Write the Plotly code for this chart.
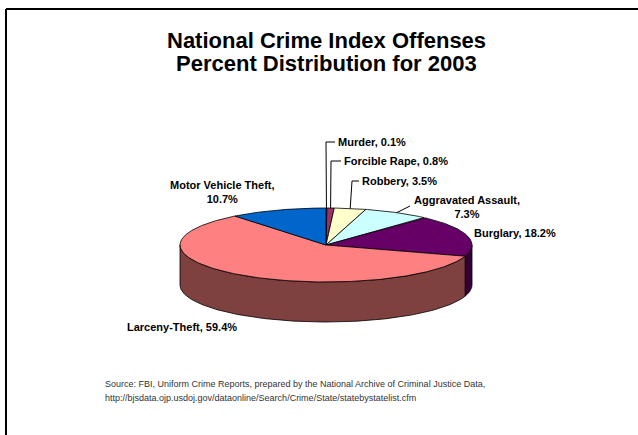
import numpy as np
import plotly.graph_objects as go

# Offense categories and their share of the 2003 Crime Index (percent)
categories = ["Murder", "Forcible Rape", "Robbery", "Aggravated Assault",
              "Burglary", "Larceny-Theft", "Motor Vehicle Theft"]
percents = [0.1, 0.8, 3.5, 7.3, 18.2, 59.4, 10.7]
top_colors = ["#9999FF", "#993366", "#FFFFCC", "#CCFFFF",
              "#660066", "#FF8080", "#0066CC"]

title_lines = ["National Crime Index Offenses", "Percent Distribution for 2003"]
source_lines = [
    "Source: FBI, Uniform Crime Reports, prepared by the National Archive of Criminal Justice Data,",
    "http://bjsdata.ojp.usdoj.gov/dataonline/Search/Crime/State/statebystatelist.cfm",
]

# Label placement: text anchor, alignment, leader-line corner (or None)
label_layout = {
    "Murder": dict(x=336, y=142, xanchor="left", corner=(326, 142), br=False),
    "Forcible Rape": dict(x=342, y=161, xanchor="left", corner=(331, 161), br=False),
    "Robbery": dict(x=360, y=181, xanchor="left", corner=(352, 181), br=False),
    "Aggravated Assault": dict(x=467, y=207, xanchor="center", corner=(410, 206), br=True),
    "Burglary": dict(x=472, y=233, xanchor="left", corner=None, br=False),
    "Larceny-Theft": dict(x=239, y=327, xanchor="right", corner=None, br=False),
    "Motor Vehicle Theft": dict(x=222, y=192, xanchor="center", corner=None, br=True),
}

# 3-D pie geometry (pixel units on the plot axes)
CX, CY, RX, RY, DEPTH = 326, 245, 146, 37, 40
FONT = "Arial, Liberation Sans, sans-serif"


def darken(hex_color, f=0.5):
    h = hex_color.lstrip("#")
    r, g, b = (int(h[i:i + 2], 16) for i in (0, 2, 4))
    return "#%02X%02X%02X" % (int(r * f), int(g * f), int(b * f))


def ellipse_pt(theta, dy=0.0):
    return CX + RX * np.sin(theta), CY - RY * np.cos(theta) + dy


fig = go.Figure()

fractions = np.array(percents) / sum(percents)
ends = np.cumsum(fractions) * 2 * np.pi
starts = ends - fractions * 2 * np.pi

# Outer walls (only the front half, pi/2..3pi/2, is visible)
for a, b, col in zip(starts, ends, top_colors):
    lo, hi = max(a, np.pi / 2), min(b, 3 * np.pi / 2)
    if hi <= lo:
        continue
    t = np.linspace(lo, hi, 120)
    xt, yt = ellipse_pt(t)
    xb, yb = ellipse_pt(t[::-1], DEPTH)
    xs = np.concatenate([xt, xb, xt[:1]])
    ys = np.concatenate([yt, yb, yt[:1]])
    fig.add_trace(go.Scatter(x=xs, y=ys, mode="lines", fill="toself",
                             fillcolor=darken(col), line=dict(color="black", width=0.8),
                             hoverinfo="skip", showlegend=False))

# Top faces of the slices
for a, b, col, name, p in zip(starts, ends, top_colors, categories, percents):
    t = np.linspace(a, b, max(int((b - a) * 80), 3))
    xa, ya = ellipse_pt(t)
    xs = np.concatenate([[CX], xa, [CX]])
    ys = np.concatenate([[CY], ya, [CY]])
    fig.add_trace(go.Scatter(x=xs, y=ys, mode="lines", fill="toself",
                             fillcolor=col, line=dict(color="black", width=0.8),
                             name=name, hovertemplate=f"{name}: {p}%<extra></extra>",
                             showlegend=False))

# Data labels with leader lines from each slice's mid-angle
for a, b, name, p in zip(starts, ends, categories, percents):
    cfg = label_layout[name]
    sep = "<br>" if cfg["br"] else " "
    fig.add_annotation(x=cfg["x"], y=cfg["y"], xref="x", yref="y",
                       text=f"<b>{name},{sep}{p}%</b>", showarrow=False,
                       xanchor=cfg["xanchor"], yanchor="middle", align="center",
                       font=dict(family=FONT, size=11, color="black"))
    if cfg["corner"] is not None:
        mx, my = ellipse_pt((a + b) / 2)
        cx_, cy_ = cfg["corner"]
        if cfg["xanchor"] == "left":
            pts_x, pts_y = [mx, cx_, cfg["x"] - 1], [my, cy_, cy_]
        else:
            pts_x, pts_y = [mx, cx_], [my, cy_]
        fig.add_trace(go.Scatter(x=pts_x, y=pts_y, mode="lines",
                                 line=dict(color="black", width=1),
                                 hoverinfo="skip", showlegend=False))

# Title, one annotation per line for tight line spacing
for text, y in zip(title_lines, [40, 63]):
    fig.add_annotation(x=326, y=y, xref="x", yref="y", showarrow=False,
                       text=f"<b>{text}</b>",
                       font=dict(family=FONT, size=22, color="black"),
                       xanchor="center", yanchor="middle")

# Source note
for text, y in zip(source_lines, [384, 398]):
    fig.add_annotation(x=103, y=y, xref="x", yref="y", showarrow=False,
                       text=text, font=dict(family=FONT, size=9, color="#333333"),
                       xanchor="left", yanchor="middle")

# Frame (left and top edges)
fig.add_shape(type="line", x0=6, y0=9, x1=6, y1=435, xref="x", yref="y",
              line=dict(color="black", width=2))
fig.add_shape(type="line", x0=6, y0=9, x1=638, y1=9, xref="x", yref="y",
              line=dict(color="black", width=2))

fig.update_layout(
    width=638, height=435,
    margin=dict(l=0, r=0, t=0, b=0),
    paper_bgcolor="white", plot_bgcolor="white",
    xaxis=dict(range=[0, 638], visible=False, fixedrange=True),
    yaxis=dict(range=[435, 0], visible=False, fixedrange=True),
    showlegend=False,
)

fig.write_html("out.html")
